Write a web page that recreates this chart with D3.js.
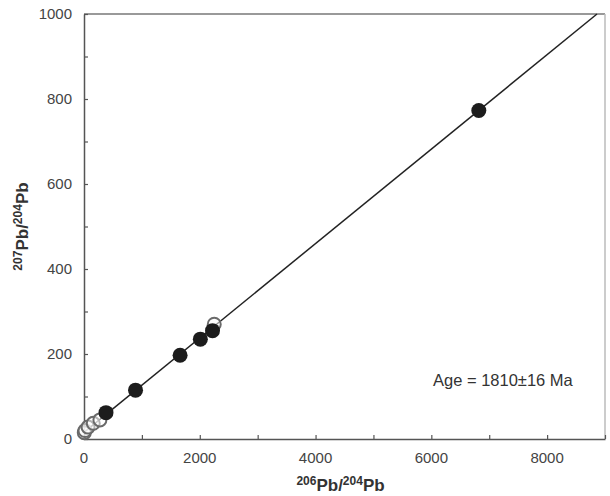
<!DOCTYPE html>
<html>
<head>
<meta charset="utf-8">
<script src="https://cdn.jsdelivr.net/npm/d3@7"></script>
<style>
  body { margin: 0; background: #fff; }
  text { font-family: "Liberation Sans", Arial, sans-serif; }
  .tick-label { font-size: 15px; fill: #444; }
  .axis-label { font-size: 17px; font-weight: bold; fill: #333; }
</style>
</head>
<body>
<div id="chart"></div>
<script>
// Filled samples (206Pb/204Pb, 207Pb/204Pb)
const filledX = [380, 890, 1660, 2010, 2220, 6820];
const filledY = [62, 115, 197, 235, 255, 773];

// Open samples
const openX = [5, 17, 70, 160, 275, 2250];
const openY = [15, 20, 28, 37, 45, 270];

// Isochron line
const lineIntercept = 15.5;
const lineSlope = 0.1111;

const xTicks = [0, 2000, 4000, 6000, 8000];
const yTicks = [0, 200, 400, 600, 800, 1000];

const config = {
  width: 610,
  height: 496,
  margin: { top: 14, right: 5, bottom: 57, left: 84 }
};

const innerW = config.width - config.margin.left - config.margin.right;
const innerH = config.height - config.margin.top - config.margin.bottom;

const svg = d3.select('#chart').append('svg')
  .attr('width', config.width)
  .attr('height', config.height);

const g = svg.append('g')
  .attr('transform', `translate(${config.margin.left},${config.margin.top})`);

const x = d3.scaleLinear().domain([0, 9000]).range([0, innerW]);
const y = d3.scaleLinear().domain([0, 1000]).range([innerH, 0]);

// Frame: top and right edges
g.append('line')
  .attr('x1', 0).attr('x2', innerW).attr('y1', 0).attr('y2', 0)
  .attr('stroke', '#777').attr('stroke-width', 1.5);
g.append('line')
  .attr('x1', innerW).attr('x2', innerW).attr('y1', 0).attr('y2', innerH)
  .attr('stroke', '#bbb').attr('stroke-width', 1.5);

// Axes with inward minor ticks
const xAxis = d3.axisBottom(x).tickValues(d3.range(0, 9001, 1000))
  .tickSizeInner(-4).tickSizeOuter(0).tickFormat('');
const yAxis = d3.axisLeft(y).tickValues(d3.range(0, 1001, 100))
  .tickSizeInner(-4).tickSizeOuter(0).tickFormat('');

const xAxisG = g.append('g').attr('transform', `translate(0,${innerH})`).call(xAxis);
const yAxisG = g.append('g').call(yAxis);
[xAxisG, yAxisG].forEach(a => {
  a.select('.domain').attr('stroke', '#555').attr('stroke-width', 1.5);
  a.selectAll('.tick line').attr('stroke', '#555').attr('stroke-width', 1.2);
});

// Tick labels
g.selectAll('.xlab').data(xTicks).enter().append('text')
  .attr('class', 'tick-label')
  .attr('x', d => x(d)).attr('y', innerH + 24)
  .attr('text-anchor', 'middle')
  .text(d => d);

g.selectAll('.ylab').data(yTicks).enter().append('text')
  .attr('class', 'tick-label')
  .attr('x', -12).attr('y', d => y(d) + 5)
  .attr('text-anchor', 'end')
  .text(d => d);

// Axis labels with superscripts
const xl = svg.append('text')
  .attr('class', 'axis-label')
  .attr('x', config.margin.left + x(4500) - 4).attr('y', 491)
  .attr('text-anchor', 'middle');
xl.append('tspan').attr('font-size', 12).attr('dy', -6).text('206');
xl.append('tspan').attr('dy', 6).text('Pb/');
xl.append('tspan').attr('font-size', 12).attr('dy', -6).text('204');
xl.append('tspan').attr('dy', 6).text('Pb');

const yl = svg.append('text')
  .attr('class', 'axis-label')
  .attr('transform', `translate(28,${config.margin.top + y(500)}) rotate(-90)`)
  .attr('text-anchor', 'middle');
yl.append('tspan').attr('font-size', 12).attr('dy', -6).text('207');
yl.append('tspan').attr('dy', 6).text('Pb/');
yl.append('tspan').attr('font-size', 12).attr('dy', -6).text('204');
yl.append('tspan').attr('dy', 6).text('Pb');

// Isochron
const xEnd = (1000 - lineIntercept) / lineSlope;
g.append('line')
  .attr('x1', x(0)).attr('y1', y(lineIntercept))
  .attr('x2', x(xEnd)).attr('y2', y(1000))
  .attr('stroke', '#222').attr('stroke-width', 1.5);

// Open circles
g.selectAll('.open').data(openX.map((d, i) => [d, openY[i]])).enter()
  .append('circle')
  .attr('class', 'open')
  .attr('cx', d => x(d[0])).attr('cy', d => y(d[1]))
  .attr('r', 6.5)
  .attr('fill', '#fff').attr('fill-opacity', 0.5)
  .attr('stroke', '#6a6a6a').attr('stroke-width', 2);

// Filled circles
g.selectAll('.filled').data(filledX.map((d, i) => [d, filledY[i]])).enter()
  .append('circle')
  .attr('class', 'filled')
  .attr('cx', d => x(d[0])).attr('cy', d => y(d[1]))
  .attr('r', 7.5)
  .attr('fill', '#1c1c1c');

// Annotation
svg.append('text')
  .attr('x', 433).attr('y', 386)
  .attr('font-size', 16.5).attr('fill', '#333')
  .text('Age = 1810±16 Ma');
</script>
</body>
</html>
